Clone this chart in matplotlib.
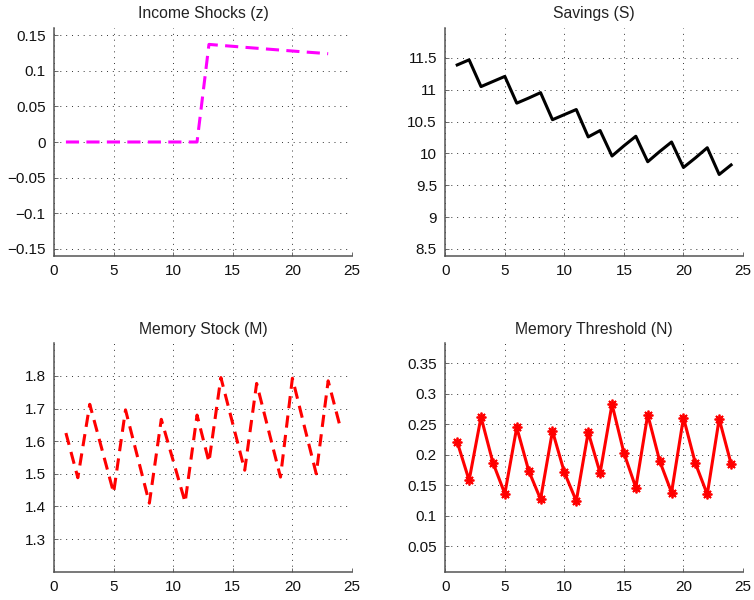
import matplotlib
matplotlib.use("Agg")
import matplotlib.pyplot as plt
from matplotlib.ticker import FuncFormatter

# ---- data ----
t_z = list(range(1, 24))
z = [0, 0, 0, 0, 0, 0, 0, 0, 0, 0, 0, 0,
     0.137, 0.1356, 0.1343, 0.1329, 0.1316, 0.1303, 0.1290, 0.1277,
     0.1264, 0.1252, 0.1239]

t = list(range(1, 25))
S = [11.39, 11.47, 11.05, 11.13, 11.21, 10.79, 10.87, 10.955, 10.53, 10.61,
     10.69, 10.26, 10.36, 9.96, 10.12, 10.27, 9.87, 10.03, 10.18, 9.78,
     9.93, 10.09, 9.67, 9.82]

M = [1.625, 1.488, 1.713, 1.578, 1.442, 1.696, 1.553, 1.41, 1.667, 1.54,
     1.413, 1.68, 1.536, 1.795, 1.653, 1.511, 1.777, 1.633, 1.49, 1.793,
     1.646, 1.50, 1.785, 1.645]

N = [0.221, 0.158, 0.262, 0.187, 0.136, 0.245, 0.174, 0.127, 0.239, 0.171,
     0.124, 0.237, 0.170, 0.283, 0.203, 0.146, 0.266, 0.190, 0.138, 0.261,
     0.186, 0.135, 0.259, 0.185]

titles = ["Income Shocks (z)", "Savings (S)", "Memory Stock (M)", "Memory Threshold (N)"]
xticks = [0, 5, 10, 15, 20, 25]
yticks_z = [-0.15, -0.1, -0.05, 0, 0.05, 0.1, 0.15]
yticks_S = [8.5, 9, 9.5, 10, 10.5, 11, 11.5]
yticks_M = [1.3, 1.4, 1.5, 1.6, 1.7, 1.8]
yticks_N = [0.05, 0.1, 0.15, 0.2, 0.25, 0.3, 0.35]

# ---- figure ----
plt.rcParams['font.family'] = ['Liberation Sans', 'DejaVu Sans']
fig = plt.figure(figsize=(7.54, 6.0), dpi=100)

W, H = 754.0, 600.0
def box(l, r, top, bot):
    return [l / W, 1 - bot / H, (r - l) / W, (bot - top) / H]

ax1 = fig.add_axes(box(54, 352, 28, 256))
ax2 = fig.add_axes(box(445.3, 743, 28, 256))
ax3 = fig.add_axes(box(54, 352, 343.3, 571.7))
ax4 = fig.add_axes(box(445.3, 743, 343.3, 571.7))

fmt = FuncFormatter(lambda v, p: ("%g" % round(v, 6)).replace("-", "\u2212"))

lw = 2.2
l1, = ax1.plot(t_z, z, color='#ff00ff', lw=lw)
l1.set_dashes((4.3, 2.4))
ax2.plot(t, S, color='black', lw=lw)
l3, = ax3.plot(t, M, color='#ff0000', lw=lw)
l3.set_dashes((4.0, 2.4))
ax4.plot(t, N, color='#ff0000', lw=lw, marker=(8, 2, 0), markersize=7,
         markeredgewidth=1.3, markeredgecolor='#ff0000')

ax1.set_ylim(-0.16, 0.16); ax1.set_yticks(yticks_z)
ax2.set_ylim(8.39, 11.97); ax2.set_yticks(yticks_S)
ax3.set_ylim(1.2, 1.9); ax3.set_yticks(yticks_M)
ax4.set_ylim(0.008, 0.383); ax4.set_yticks(yticks_N)

for ax, ttl in zip([ax1, ax2, ax3, ax4], titles):
    ax.set_xlim(0, 25)
    ax.set_xticks(xticks)
    ax.yaxis.set_major_formatter(fmt)
    ax.xaxis.set_major_formatter(fmt)
    ax.set_title(ttl, fontsize=11.3, color='#222222', pad=7)
    ax.spines['top'].set_visible(False)
    ax.spines['right'].set_visible(False)
    for s in ('left', 'bottom'):
        ax.spines[s].set_color('#555555')
        ax.spines[s].set_linewidth(1.1)
    ax.tick_params(direction='in', length=3, width=0.6, color='#555555',
                   labelsize=11, labelcolor='#111111', pad=6)
    ax.grid(True, color='#333333', linewidth=0.7, linestyle=(0, (1, 5)))
    ax.set_axisbelow(True)

fig.savefig("out.png", dpi=100)
